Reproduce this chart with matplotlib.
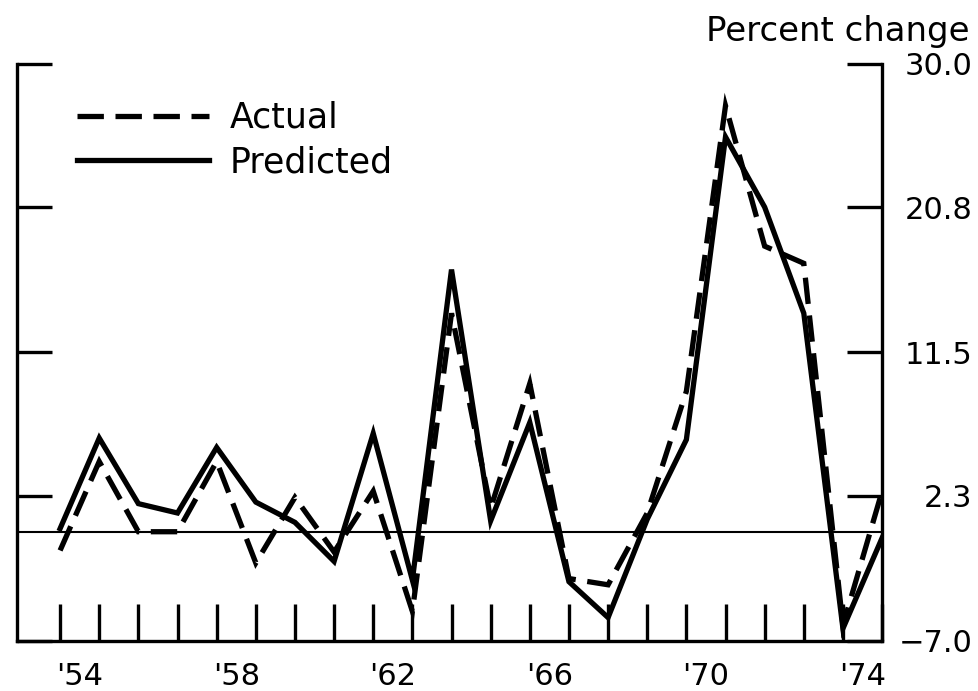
import numpy as np
import matplotlib
matplotlib.use( 'Agg' )
import matplotlib.pyplot as plt

# annual percent change
years = list( range( 1953, 1975 ) )
actual = [ -1.2, 4.5, 0.0, 0.0, 4.5, -2.0, 2.2, -1.3, 2.6, -5.1,
           14.0, 1.5, 9.5, -3.0, -3.4, 1.2, 9.0, 27.3, 18.3, 17.2,
           -6.0, 2.6 ]
predicted = [ 0.2, 6.0, 1.8, 1.2, 5.4, 1.9, 0.6, -1.9, 6.3, -3.1,
              16.8, 0.7, 7.0, -3.2, -5.5, 0.8, 5.9, 25.3, 20.8, 14.0,
              -6.2, -0.4 ]

label_years = [ 1954, 1958, 1962, 1966, 1970, 1974 ]
y_ticks = [ -7.0, 2.3, 11.5, 20.8, 30.0 ]

fig = plt.figure( figsize=( 9.79, 6.91 ), dpi=100 )
ax = fig.add_axes( [ 0.0174, 0.0724, 0.8836, 0.8356 ] )

ax.plot( years, actual, color='black', lw=3.8, linestyle=( 0, ( 5, 2.2 ) ),
         dash_joinstyle='miter', dash_capstyle='butt', label='Actual' )
ax.plot( years, predicted, color='black', lw=3.8, solid_joinstyle='miter',
         label='Predicted' )
ax.axhline( 0, color='black', lw=1.5 )

ax.set_xlim( 1951.9, 1974 )
ax.set_ylim( -7, 30 )

ax.spines[ 'top' ].set_visible( False )
for s in [ 'left', 'right', 'bottom' ]:
    ax.spines[ s ].set_linewidth( 2.4 )

# year marks inside the frame, labels sit between the marks
ax.set_xticks( years )
ax.set_xticks( [ y - 0.5 for y in label_years ], minor=True )
ax.set_xticklabels( [ "'" + str( y )[ 2: ] for y in label_years ], minor=True )
ax.tick_params( axis='x', which='major', direction='in', length=27, width=2.4,
                labelbottom=False )
ax.tick_params( axis='x', which='minor', length=0, pad=15, labelsize=22 )

ax.set_yticks( y_ticks )
ax.set_yticklabels( [ f'{v:.1f}'.replace( '-', '\u2212' ) for v in y_ticks ] )
ax.tick_params( axis='y', direction='in', length=25, width=2.4, left=True, right=True,
                labelleft=False, labelright=True, labelsize=22, pad=65 )
for tick in ax.yaxis.get_major_ticks():
    tick.label2.set_horizontalalignment( 'right' )

ax.legend( loc='upper left', bbox_to_anchor=( 77 / 979, 1 - 101 / 691 ),
           bbox_transform=fig.transFigure, frameon=False, fontsize=25,
           handlelength=3.8, handletextpad=0.6, labelspacing=0.3,
           borderpad=0, borderaxespad=0 )

fig.text( 970 / 979, 1 - 31 / 691, 'Percent change', ha='right', va='center', fontsize=24.5 )

fig.savefig( 'out.png', dpi=100 )
